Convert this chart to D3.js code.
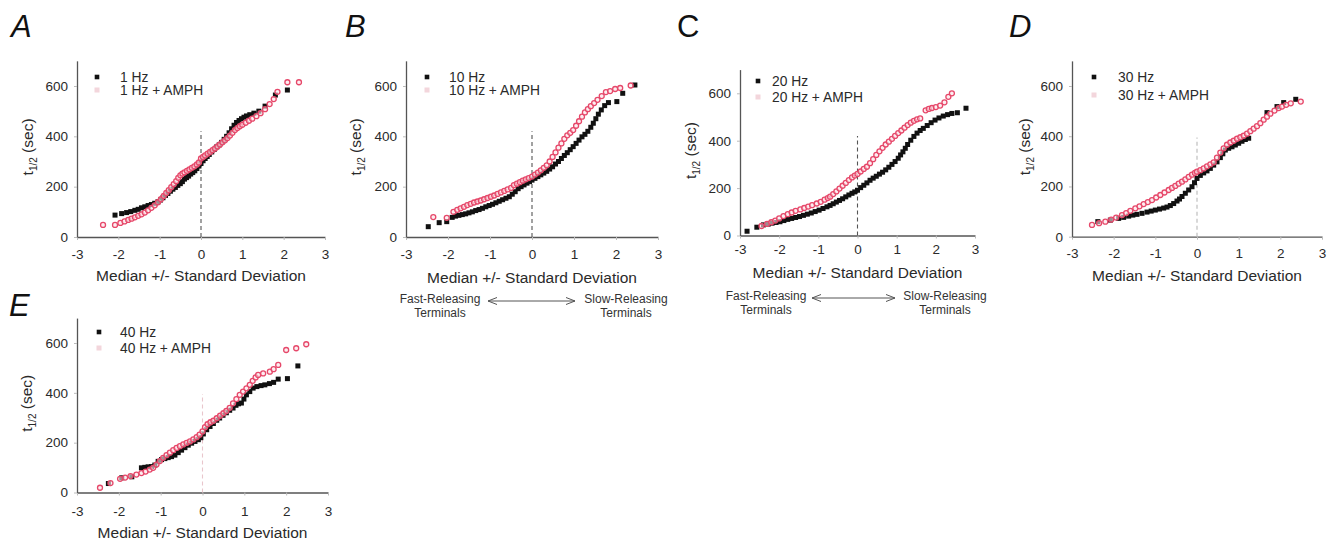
<!DOCTYPE html>
<html>
<head>
<meta charset="utf-8">
<script src="https://cdn.jsdelivr.net/npm/d3@7"></script>
<style>
  html, body { margin: 0; padding: 0; background: #fff; }
  svg { display: block; }
  text { font-family: "Liberation Sans", Arial, Helvetica, sans-serif; }
</style>
</head>
<body>
<svg id="chart" width="1340" height="548"></svg>
<script>
// ---------------- data ----------------
const X_TICKS = [-3, -2, -1, 0, 1, 2, 3];
const Y_TICKS = [0, 200, 400, 600];
const PANEL_LETTERS = ["A", "B", "C", "D", "E"];
const FREQ_LABELS = ["1 Hz", "10 Hz", "20 Hz", "30 Hz", "40 Hz"];
const AMPH_SUFFIX = " + AMPH";
const X_LABEL = "Median +/- Standard Deviation";
const SUB_LEFT = ["Fast-Releasing", "Terminals"];
const SUB_RIGHT = ["Slow-Releasing", "Terminals"];

// [SD from median, t1/2 (sec)]
const CTRL_1HZ = [[-2.08,87],[-1.92,93],[-1.80,97],[-1.70,101],[-1.60,106],[-1.52,110],[-1.44,116],[-1.36,120],[-1.28,125],[-1.20,129],[-1.12,134],[-1.04,140],[-0.98,147],[-0.92,156],[-0.86,165],[-0.80,173],[-0.74,182],[-0.68,190],[-0.62,197],[-0.56,205],[-0.50,212],[-0.45,220],[-0.40,230],[-0.35,236],[-0.30,242],[-0.25,250],[-0.20,256],[-0.15,263],[-0.10,272],[-0.05,282],[0.00,292],[0.05,303],[0.10,312],[0.15,320],[0.20,328],[0.26,338],[0.32,348],[0.38,358],[0.44,366],[0.50,376],[0.56,388],[0.62,400],[0.68,414],[0.74,430],[0.80,444],[0.86,455],[0.92,463],[0.98,470],[1.04,476],[1.10,481],[1.18,486],[1.28,492],[1.40,500],[1.55,520],[1.80,564],[2.09,584]];
const AMPH_1HZ = [[-2.37,48],[-2.08,48],[-1.95,56],[-1.85,62],[-1.76,68],[-1.68,73],[-1.60,78],[-1.52,84],[-1.44,90],[-1.36,97],[-1.28,106],[-1.20,116],[-1.12,126],[-1.04,138],[-0.97,150],[-0.90,163],[-0.84,175],[-0.78,186],[-0.72,198],[-0.66,210],[-0.60,222],[-0.55,235],[-0.50,245],[-0.45,252],[-0.40,257],[-0.34,263],[-0.28,269],[-0.22,275],[-0.16,281],[-0.10,288],[-0.05,296],[0.00,312],[0.05,318],[0.10,324],[0.16,331],[0.22,338],[0.28,345],[0.34,352],[0.40,360],[0.46,368],[0.52,376],[0.58,384],[0.64,393],[0.70,403],[0.76,414],[0.82,425],[0.88,433],[0.94,440],[1.00,446],[1.08,454],[1.16,462],[1.24,470],[1.34,480],[1.44,492],[1.55,508],[1.66,528],[1.76,548],[1.85,577],[2.09,615],[2.37,615]];

const CTRL_10HZ = [[-2.47,41],[-2.21,57],[-2.03,61],[-1.90,78],[-1.82,83],[-1.74,86],[-1.66,89],[-1.58,92],[-1.50,96],[-1.42,100],[-1.34,105],[-1.26,109],[-1.18,114],[-1.10,120],[-1.02,125],[-0.94,130],[-0.86,136],[-0.78,142],[-0.70,148],[-0.62,154],[-0.54,160],[-0.47,170],[-0.40,180],[-0.33,192],[-0.26,200],[-0.19,207],[-0.12,214],[-0.06,220],[0.00,226],[0.07,233],[0.14,240],[0.21,247],[0.28,254],[0.35,261],[0.42,270],[0.49,279],[0.56,290],[0.63,300],[0.70,312],[0.77,324],[0.84,335],[0.91,347],[0.98,359],[1.05,372],[1.12,385],[1.19,398],[1.26,408],[1.33,420],[1.40,436],[1.46,452],[1.52,470],[1.58,488],[1.65,505],[1.73,522],[1.82,534],[2.02,538],[2.16,571],[2.45,604]];
const AMPH_10HZ = [[-2.35,79],[-2.03,76],[-1.87,100],[-1.78,108],[-1.70,114],[-1.62,120],[-1.54,127],[-1.46,132],[-1.38,137],[-1.30,141],[-1.22,145],[-1.14,150],[-1.06,155],[-0.98,160],[-0.90,165],[-0.82,171],[-0.74,177],[-0.66,183],[-0.58,189],[-0.50,195],[-0.43,206],[-0.36,212],[-0.29,218],[-0.22,224],[-0.15,229],[-0.08,234],[0.00,240],[0.07,248],[0.14,256],[0.21,265],[0.28,275],[0.35,285],[0.42,300],[0.49,318],[0.56,336],[0.63,355],[0.70,372],[0.77,390],[0.84,404],[0.91,414],[0.98,425],[1.05,442],[1.12,460],[1.19,478],[1.26,495],[1.33,508],[1.40,520],[1.48,532],[1.56,545],[1.66,560],[1.76,576],[1.86,580],[1.98,588],[2.10,592],[2.35,602]];

const CTRL_20HZ = [[-2.82,18],[-2.57,35],[-2.40,45],[-2.28,48],[-2.18,52],[-2.08,55],[-1.98,58],[-1.88,63],[-1.78,68],[-1.68,72],[-1.58,76],[-1.48,80],[-1.38,85],[-1.28,90],[-1.18,95],[-1.08,101],[-0.98,107],[-0.88,114],[-0.78,121],[-0.70,127],[-0.62,134],[-0.54,141],[-0.46,148],[-0.38,155],[-0.30,163],[-0.22,171],[-0.14,178],[-0.07,184],[0.00,191],[0.08,202],[0.16,212],[0.24,222],[0.32,233],[0.40,242],[0.48,250],[0.56,259],[0.64,267],[0.72,277],[0.80,288],[0.88,300],[0.96,312],[1.04,326],[1.10,340],[1.16,353],[1.22,368],[1.28,384],[1.36,402],[1.44,418],[1.52,432],[1.60,443],[1.68,452],[1.78,464],[1.88,476],[1.98,487],[2.08,496],[2.19,504],[2.30,510],[2.41,515],[2.55,518],[2.77,537]];
const AMPH_20HZ = [[-2.45,40],[-2.31,49],[-2.20,56],[-2.10,63],[-2.00,72],[-1.89,82],[-1.78,90],[-1.68,97],[-1.58,104],[-1.46,110],[-1.36,116],[-1.26,122],[-1.16,128],[-1.04,135],[-0.94,142],[-0.84,151],[-0.76,158],[-0.70,164],[-0.62,175],[-0.54,186],[-0.46,198],[-0.38,210],[-0.30,222],[-0.22,234],[-0.14,245],[-0.07,253],[0.00,260],[0.08,270],[0.16,281],[0.24,290],[0.32,305],[0.40,322],[0.48,340],[0.56,355],[0.64,370],[0.72,384],[0.80,396],[0.88,408],[0.96,420],[1.04,432],[1.12,443],[1.20,455],[1.28,466],[1.36,476],[1.44,484],[1.52,490],[1.60,494],[1.74,528],[1.82,534],[1.90,538],[2.00,542],[2.11,548],[2.22,562],[2.32,585],[2.41,600]];

const CTRL_30HZ = [[-2.38,60],[-2.08,66],[-1.88,73],[-1.76,77],[-1.64,82],[-1.54,86],[-1.44,89],[-1.32,93],[-1.20,98],[-1.10,102],[-1.00,106],[-0.90,110],[-0.80,114],[-0.72,118],[-0.64,124],[-0.56,132],[-0.48,142],[-0.42,150],[-0.36,160],[-0.28,173],[-0.20,186],[-0.12,199],[-0.06,215],[0.00,232],[0.08,244],[0.16,254],[0.24,262],[0.32,272],[0.40,285],[0.48,298],[0.56,315],[0.62,330],[0.68,345],[0.76,352],[0.84,358],[0.92,365],[1.00,372],[1.08,380],[1.16,387],[1.24,392],[1.68,494],[1.92,518],[2.08,534],[2.37,547]];
const AMPH_30HZ = [[-2.52,47],[-2.35,54],[-2.20,60],[-2.06,68],[-1.94,76],[-1.80,86],[-1.70,94],[-1.60,103],[-1.48,113],[-1.38,121],[-1.28,130],[-1.18,138],[-1.08,146],[-0.98,156],[-0.88,166],[-0.78,176],[-0.68,186],[-0.60,194],[-0.52,202],[-0.44,211],[-0.36,219],[-0.28,228],[-0.20,238],[-0.12,247],[-0.05,254],[0.00,259],[0.08,265],[0.16,272],[0.24,280],[0.32,288],[0.40,296],[0.48,315],[0.56,335],[0.64,352],[0.72,366],[0.80,375],[0.88,382],[0.96,390],[1.04,396],[1.12,402],[1.20,410],[1.28,420],[1.36,430],[1.44,440],[1.52,452],[1.60,466],[1.68,478],[1.76,490],[1.86,502],[1.96,512],[2.04,518],[2.14,525],[2.25,531],[2.49,538]];

const CTRL_40HZ = [[-2.25,36],[-1.93,59],[-1.69,63],[-1.46,99],[-1.38,101],[-1.30,103],[-1.22,104],[-1.14,110],[-1.06,125],[-0.98,132],[-0.90,136],[-0.82,140],[-0.74,144],[-0.66,150],[-0.58,160],[-0.50,170],[-0.42,180],[-0.34,190],[-0.26,198],[-0.18,205],[-0.10,212],[-0.04,220],[0.02,235],[0.10,252],[0.18,265],[0.26,277],[0.34,290],[0.41,299],[0.49,310],[0.57,320],[0.65,330],[0.73,339],[0.80,350],[0.86,356],[0.93,359],[0.99,375],[1.05,392],[1.13,405],[1.21,419],[1.30,425],[1.40,429],[1.49,432],[1.60,437],[1.70,442],[1.81,455],[2.03,457],[2.28,508]];
const AMPH_40HZ = [[-2.45,19],[-2.20,38],[-1.97,55],[-1.85,60],[-1.72,66],[-1.58,72],[-1.46,78],[-1.36,84],[-1.26,92],[-1.18,99],[-1.10,112],[-1.02,126],[-0.94,139],[-0.86,150],[-0.78,160],[-0.70,170],[-0.62,179],[-0.54,186],[-0.46,193],[-0.38,199],[-0.30,205],[-0.22,213],[-0.14,222],[-0.07,232],[0.00,245],[0.06,262],[0.12,274],[0.19,282],[0.26,288],[0.34,298],[0.42,308],[0.50,318],[0.57,327],[0.65,340],[0.73,358],[0.81,375],[0.89,392],[0.97,405],[1.05,418],[1.13,432],[1.20,448],[1.27,462],[1.33,472],[1.45,478],[1.61,485],[1.70,495],[1.81,512],[2.00,572],[2.24,579],[2.48,595]];

const CTRL_SERIES = [CTRL_1HZ, CTRL_10HZ, CTRL_20HZ, CTRL_30HZ, CTRL_40HZ];
const AMPH_SERIES = [AMPH_1HZ, AMPH_10HZ, AMPH_20HZ, AMPH_30HZ, AMPH_40HZ];

// ---------------- layout (pixels) ----------------
const LAYOUT = [
  { x0: 77,   x1: 325,  y0: 237,   y600: 86,   tx: 11,   ty: 37,  italic: true,  lg: {mx: 97,   y1: 77,  y2: 90,  tx: 120},  xlabY: 281, ylabX: 28,   tickY: 12, dashTop: 420, dash: "#555", sub: null },
  { x0: 406,  x1: 658,  y0: 237,   y600: 86,   tx: 345,  ty: 37,  italic: true,  lg: {mx: 427,  y1: 77,  y2: 90,  tx: 449},  xlabY: 283, ylabX: 356,  tickY: 12, dashTop: 420, dash: "#555", sub: {lx: 440, rx: 626, a0: 488, a1: 575, y: 303} },
  { x0: 740,  x1: 975,  y0: 235.5, y600: 93.3, tx: 677,  ty: 37,  italic: false, lg: {mx: 758,  y1: 81,  y2: 97,  tx: 772},  xlabY: 278, ylabX: 691,  tickY: 9,  dashTop: 420, dash: "#555", sub: {lx: 766, rx: 945, a0: 812, a1: 895, y: 300} },
  { x0: 1072, x1: 1322, y0: 236.7, y600: 86,   tx: 1009, ty: 37,  italic: true,  lg: {mx: 1094, y1: 77,  y2: 95,  tx: 1118}, xlabY: 281, ylabX: 1025, tickY: 12, dashTop: 395, dash: "#b8b8b8", sub: null },
  { x0: 77,   x1: 328,  y0: 492.5, y600: 343,  tx: 9,    ty: 316, italic: true,  lg: {mx: 99,   y1: 332, y2: 348, tx: 120},  xlabY: 538, ylabX: 27,   tickY: 14, dashTop: 395, dash: "#e9c6cc", sub: null }
];

const BLACK = "#111";
const PINK = "#e6486a";
const AXIS = "#555";
const TXT = "#2a2a2a";

const svg = d3.select("#chart");

LAYOUT.forEach((L, i) => {
  const k = (L.y0 - L.y600) / 600;
  const xs = d3.scaleLinear().domain([-3, 3]).range([L.x0, L.x1]);
  const ys = d3.scaleLinear().domain([0, 700]).range([L.y0, L.y0 - 700 * k]);
  const g = svg.append("g");

  // panel letter
  g.append("text")
    .attr("x", L.tx).attr("y", L.ty)
    .attr("font-size", 31)
    .attr("font-style", L.italic ? "italic" : "normal")
    .attr("fill", "#111")
    .text(PANEL_LETTERS[i]);

  // x axis
  const gx = g.append("g").attr("transform", `translate(0,${L.y0})`)
    .call(d3.axisBottom(xs).tickValues(X_TICKS).tickSize(3).tickSizeOuter(0).tickPadding(L.tickY - 3)
      .tickFormat(d => d));
  gx.select(".domain").attr("stroke", AXIS).attr("stroke-width", 1.3);
  gx.selectAll(".tick line").attr("stroke", "#bbb");
  gx.selectAll(".tick text").attr("font-size", 13.5).attr("fill", TXT)
    .attr("font-family", '"Liberation Sans", Arial, sans-serif');

  // y axis
  const gy = g.append("g").attr("transform", `translate(${L.x0},0)`)
    .call(d3.axisLeft(ys).tickValues(Y_TICKS).tickSize(3).tickSizeOuter(0).tickPadding(6));
  gy.select(".domain").attr("stroke", AXIS).attr("stroke-width", 1.3);
  gy.selectAll(".tick line").attr("stroke", "#bbb");
  gy.selectAll(".tick text").attr("font-size", 13.5).attr("fill", TXT)
    .attr("font-family", '"Liberation Sans", Arial, sans-serif');

  // dashed median line
  g.append("line")
    .attr("x1", xs(0)).attr("x2", xs(0))
    .attr("y1", ys(0)).attr("y2", ys(L.dashTop))
    .attr("stroke", L.dash).attr("stroke-width", 1.1)
    .attr("stroke-dasharray", "4,3");

  // control series: filled black squares
  g.append("g").selectAll("rect").data(CTRL_SERIES[i]).join("rect")
    .attr("x", d => xs(d[0]) - 2.5).attr("y", d => ys(d[1]) - 2.5)
    .attr("width", 5).attr("height", 5)
    .attr("fill", BLACK);

  // AMPH series: open pink circles
  g.append("g").selectAll("circle").data(AMPH_SERIES[i]).join("circle")
    .attr("cx", d => xs(d[0])).attr("cy", d => ys(d[1]))
    .attr("r", 2.5)
    .attr("fill", "#fbe3e8").attr("fill-opacity", 0.6)
    .attr("stroke", PINK).attr("stroke-width", 1.3);

  // legend
  const lg = L.lg;
  g.append("rect").attr("x", lg.mx - 2.3).attr("y", lg.y1 - 2.3)
    .attr("width", 4.6).attr("height", 4.6).attr("fill", BLACK);
  g.append("rect").attr("x", lg.mx - 2.5).attr("y", lg.y2 - 2.5)
    .attr("width", 5).attr("height", 5).attr("fill", "#f3d6dc");
  g.append("text").attr("x", lg.tx).attr("y", lg.y1 + 4.6)
    .attr("font-size", 13.8).attr("fill", TXT).text(FREQ_LABELS[i]);
  g.append("text").attr("x", lg.tx).attr("y", lg.y2 + 4.6)
    .attr("font-size", 13.8).attr("fill", TXT).text(FREQ_LABELS[i] + AMPH_SUFFIX);

  // x label
  g.append("text")
    .attr("x", (L.x0 + L.x1) / 2).attr("y", L.xlabY)
    .attr("text-anchor", "middle").attr("font-size", 15.5).attr("fill", TXT)
    .text(X_LABEL);

  // y label: t1/2 (sec)
  const yl = g.append("text")
    .attr("transform", `translate(${L.ylabX + 5},${(ys(0) + ys(700)) / 2 - 2}) rotate(-90)`)
    .attr("text-anchor", "middle").attr("font-size", 15.5).attr("fill", TXT);
  yl.append("tspan").text("t");
  yl.append("tspan").attr("font-size", 10).attr("dy", 4).text("1/2");
  yl.append("tspan").attr("dy", -4).text(" (sec)");

  // fast / slow releasing annotation
  if (L.sub) {
    const s = L.sub;
    [[s.lx, SUB_LEFT], [s.rx, SUB_RIGHT]].forEach(([cx, lines]) => {
      lines.forEach((t, j) => {
        g.append("text").attr("x", cx).attr("y", s.y + j * 13.5)
          .attr("text-anchor", "middle").attr("font-size", 12).attr("fill", "#333")
          .text(t);
      });
    });
    const ay = s.y - 2;
    g.append("line").attr("x1", s.a0).attr("x2", s.a1).attr("y1", ay).attr("y2", ay)
      .attr("stroke", "#555").attr("stroke-width", 1);
    g.append("path").attr("d", `M${s.a0 + 9},${ay - 3.5} L${s.a0},${ay} L${s.a0 + 9},${ay + 3.5}`)
      .attr("fill", "none").attr("stroke", "#555").attr("stroke-width", 1);
    g.append("path").attr("d", `M${s.a1 - 9},${ay - 3.5} L${s.a1},${ay} L${s.a1 - 9},${ay + 3.5}`)
      .attr("fill", "none").attr("stroke", "#555").attr("stroke-width", 1);
  }
});
</script>
</body>
</html>
